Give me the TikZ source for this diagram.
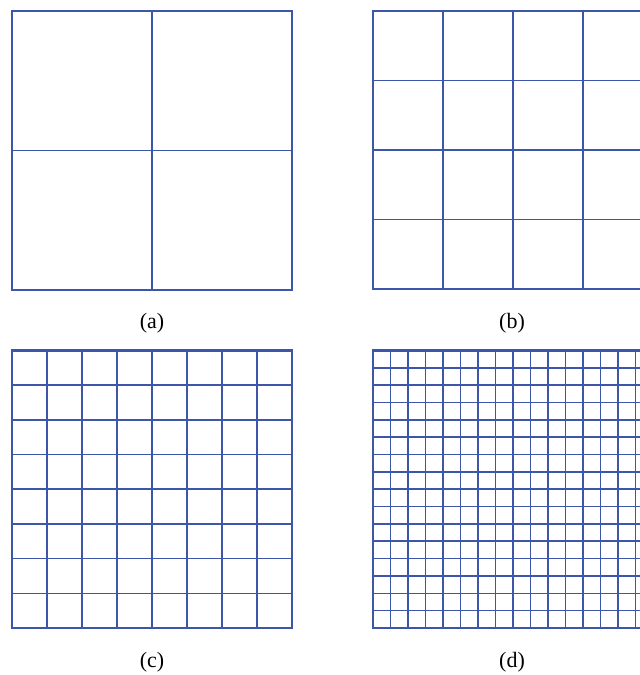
\documentclass[tikz,border=0pt]{standalone}
\usepackage{fontspec}
\setmainfont{Liberation Serif}
\definecolor{meshblue}{RGB}{60,86,168}

\begin{document}
\begin{tikzpicture}[x=0.02cm,y=0.02cm]
\tikzset{inner/.style={draw=meshblue,line width=0.9pt},
  outer/.style={draw=meshblue,line width=1.2pt},
  caption/.style={font=\fontsize{12.5}{14}\selectfont}}
\useasboundingbox (0,0) rectangle (639,675);
% (a) 2 x 2
\begin{scope}[shift={(12,385)},x=2.8cm,y=2.79cm]
\draw[inner,step=1] (0,0) grid (2,2);
\draw[outer] (0,0) rectangle (2,2);
\end{scope}
% (b) 4 x 4
\begin{scope}[shift={(373,386)},x=1.4cm,y=1.39cm]
\draw[inner,step=1] (0,0) grid (4,4);
\draw[outer] (0,0) rectangle (4,4);
\end{scope}
% (c) 8 x 8
\begin{scope}[shift={(12,47)},x=0.7cm,y=0.694cm]
\draw[inner,step=1] (0,0) grid (8,8);
\draw[outer] (0,0) rectangle (8,8);
\end{scope}
% (d) 16 x 16
\begin{scope}[shift={(373,47)},x=0.35cm,y=0.347cm]
\draw[inner,step=1] (0,0) grid (16,16);
\draw[outer] (0,0) rectangle (16,16);
\end{scope}
\node[caption] (capa) at (152,352) {(a)};
\node[caption] (capb) at (512,352) {(b)};
\node[caption] (capc) at (152,13) {(c)};
\node[caption] (capd) at (512,13) {(d)};
\end{tikzpicture}
\end{document}
